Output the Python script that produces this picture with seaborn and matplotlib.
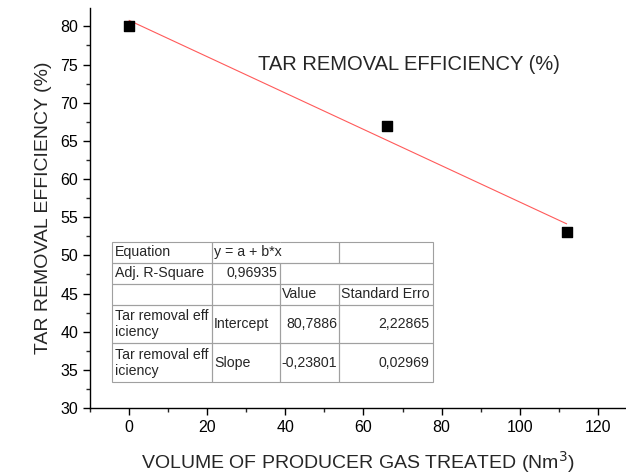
import matplotlib
matplotlib.use('Agg')
import matplotlib.pyplot as plt
import seaborn as sns
import numpy as np
import pandas as pd
from matplotlib.ticker import MultipleLocator

# Data
volume = [0, 66, 112]
efficiency = [80, 67, 53]

# Fit summary table shown in the chart
table_text = [
    ['Equation', 'y = a + b*x', '', ''],
    ['Adj. R-Square', '0,96935', '', ''],
    ['', '', 'Value', 'Standard Erro'],
    ['Tar removal eff\niciency', 'Intercept', '80,7886', '2,22865'],
    ['Tar removal eff\niciency', 'Slope', '-0,23801', '0,02969'],
]

sns.set_style('ticks')
plt.rcParams['font.family'] = ['Liberation Sans', 'DejaVu Sans']

df = pd.DataFrame({'volume': volume, 'efficiency': efficiency})

fig = plt.figure(figsize=(6.26, 4.75), dpi=100)
ax = fig.add_axes([0.1438, 0.141, 0.855, 0.842])

sns.regplot(data=df, x='volume', y='efficiency', ax=ax, ci=None, truncate=True,
            marker='s', scatter_kws={'color': 'black', 's': 50, 'alpha': 1,
                                     'edgecolors': 'black', 'zorder': 3},
            line_kws={'color': '#ff5a5a', 'lw': 0.8})

ax.set_xlim(-10, 127)
ax.set_ylim(30, 82.4)
ax.xaxis.set_major_locator(MultipleLocator(20))
ax.xaxis.set_minor_locator(MultipleLocator(10))
ax.yaxis.set_major_locator(MultipleLocator(5))
ax.yaxis.set_minor_locator(MultipleLocator(2.5))
ax.tick_params(which='major', direction='out', length=5, width=1, labelsize=11.5, colors='black')
ax.tick_params(which='minor', direction='out', length=3, width=1)
for s in ['top', 'right']:
    ax.spines[s].set_visible(False)
for s in ['left', 'bottom']:
    ax.spines[s].set_color('black')
    ax.spines[s].set_linewidth(1)

ax.set_xlabel('VOLUME OF PRODUCER GAS TREATED (Nm$^3$)', fontsize=14, labelpad=10)
ax.set_ylabel('TAR REMOVAL EFFICIENCY (%)', fontsize=14, labelpad=6)
ax.text(0.314, 0.86, 'TAR REMOVAL EFFICIENCY (%)', transform=ax.transAxes,
        fontsize=14.5, va='center', ha='left')

# summary table
col_w = [100, 68, 59, 94]
row_h = [21, 21, 21, 39, 39]
tbl = ax.table(cellText=table_text, bbox=[0.041, 0.065, 0.599, 0.35])
tbl.auto_set_font_size(False)
tbl.set_fontsize(10.2)
edges = {(0, 1): 'BTL', (0, 2): 'BTR', (1, 2): 'BTL', (1, 3): 'BTR'}
right_cells = [(1, 1), (3, 2), (3, 3), (4, 3)]
for (r, c), cell in tbl.get_celld().items():
    cell.set_width(col_w[c] / sum(col_w))
    cell.set_height(row_h[r] / sum(row_h))
    cell.set_edgecolor('#a0a0a0')
    cell.set_facecolor('none')
    cell.set_linewidth(0.8)
    cell.PAD = 0.03
    txt = cell.get_text()
    txt.set_ha('right' if (r, c) in right_cells else 'left')
    txt.set_multialignment('left')
    if (r, c) in edges:
        cell.visible_edges = edges[(r, c)]

fig.savefig('out.png', dpi=100)
